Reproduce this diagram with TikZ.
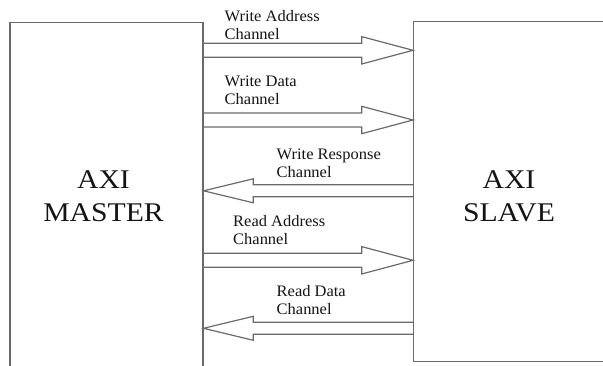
\documentclass[tikz,border=0pt]{standalone}
\usepackage{fontspec}
\setmainfont{Liberation Serif}
\newfontfamily\bigserif[FakeStretch=1.1]{Liberation Serif}
\newfontfamily\smallserif[FakeStretch=1.03]{Liberation Serif}
\usetikzlibrary{calc}
\definecolor{linegray}{HTML}{6A6A6A}
\definecolor{txtdark}{HTML}{141414}
\tikzset{
  blockbox/.style={draw=linegray, line width=1.3pt, rectangle, inner sep=0pt, anchor=north west},
  chan/.style={draw=linegray, line width=1.2pt, line join=miter},
  smalltxt/.style={font=\smallserif\fontsize{16}{18}\selectfont, text=txtdark, inner sep=0pt, anchor=base west},
  bigtxt/.style={font=\bigserif\fontsize{27}{33}\selectfont, text=txtdark, inner sep=0pt, anchor=base},
}
\newcommand\fwdchan[1]{%
  \pgfmathsetmacro\ya{#1-7}\pgfmathsetmacro\yb{#1+7}%
  \pgfmathsetmacro\yc{#1-13.7}\pgfmathsetmacro\yd{#1+13.7}%
  \draw[chan] (master.east |- 0,\ya) -- (361.7,\ya) -- (361.7,\yc)
     -- (slave.west |- 0,#1) -- (361.7,\yd) -- (361.7,\yb) -- (master.east |- 0,\yb);}
\newcommand\bwdchan[1]{%
  \pgfmathsetmacro\ya{#1-6}\pgfmathsetmacro\yb{#1+6}%
  \pgfmathsetmacro\yc{#1-12}\pgfmathsetmacro\yd{#1+12}%
  \draw[chan] (slave.west |- 0,\ya) -- (253.3,\ya) -- (253.3,\yc)
     -- (master.east |- 0,#1) -- (253.3,\yd) -- (253.3,\yb) -- (slave.west |- 0,\yb);}
\begin{document}
\begin{tikzpicture}[x=1pt,y=-1pt]
\useasboundingbox (0,0) rectangle (603,365);
\fill[white] (0,0) rectangle (603,365);
\node[blockbox, minimum width=193pt, minimum height=346pt] (master) at (9.3,21.7) {};
\node[blockbox, minimum width=193pt, minimum height=339.7pt] (slave) at (413,21) {};
\node[bigtxt] (mt1) at (103.5,188.3) {AXI};
\node[bigtxt] (mt2) at (103.5,221.7) {MASTER};
\node[bigtxt] (st1) at (509,188.3) {AXI};
\node[bigtxt] (st2) at (509,221.7) {SLAVE};
\fwdchan{50.3}
\fwdchan{120}
\bwdchan{190.8}
\fwdchan{260.3}
\bwdchan{328.3}
\node[smalltxt] (wa1) at (224.5,21) {Write Address};
\node[smalltxt] (wa2) at (224.5,39) {Channel};
\node[smalltxt] (wd1) at (224.5,86.5) {Write Data};
\node[smalltxt] (wd2) at (224.5,104) {Channel};
\node[smalltxt] (wr1) at (276.5,159.5) {Write Response};
\node[smalltxt] (wr2) at (276.5,177) {Channel};
\node[smalltxt] (ra1) at (233,226.5) {Read Address};
\node[smalltxt] (ra2) at (233,244) {Channel};
\node[smalltxt] (rd1) at (276.5,296.5) {Read Data};
\node[smalltxt] (rd2) at (276.5,314) {Channel};
\end{tikzpicture}
\end{document}
